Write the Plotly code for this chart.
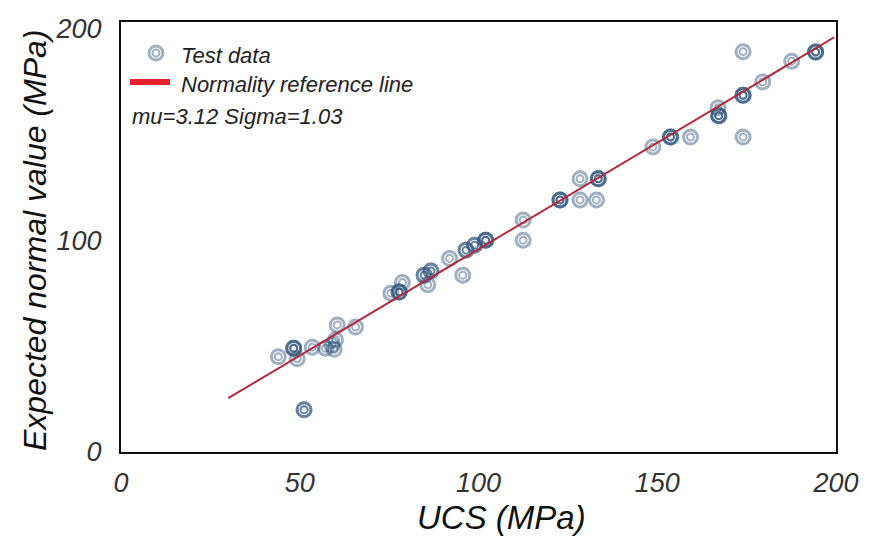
import plotly.graph_objects as go

# UCS (MPa) and expected normal value (MPa); repeated entries are overlapping observations
ucs = [44.0, 49.3, 48.3, 48.3, 48.3, 51.2, 51.2, 53.5, 57.2, 59.6, 59.0, 60.0, 60.5, 65.6,
       75.5, 77.8, 77.8, 77.8, 78.7, 84.8, 84.8, 86.7, 86.7, 85.8, 91.9, 95.6,
       96.5, 96.5, 98.9, 98.9, 102.0, 102.0, 102.0, 112.5, 112.5,
       122.8, 122.8, 122.8, 128.4, 133.0, 128.4, 133.5, 133.5, 133.5,
       148.8, 153.7, 153.7, 153.7, 159.3, 167.2, 167.2, 167.2, 167.0, 174.0,
       174.0, 174.0, 174.0, 179.5, 174.0, 187.6, 194.3, 194.3, 194.3]
expected = [45.0, 44.0, 49.0, 49.0, 49.0, 20.0, 20.0, 49.5, 49.0, 48.5, 50.5, 53.0, 60.0, 59.0,
            75.0, 75.5, 75.5, 75.5, 80.0, 83.5, 83.5, 85.5, 85.5, 79.0, 91.4, 83.5,
            95.3, 95.3, 97.6, 97.6, 100.0, 100.0, 100.0, 109.5, 100.0,
            119.0, 119.0, 119.0, 119.0, 119.0, 129.0, 129.0, 129.0, 129.0,
            144.0, 148.7, 148.7, 148.7, 148.7, 158.8, 158.8, 158.8, 162.5, 148.7,
            168.4, 168.4, 168.4, 174.7, 189.0, 184.5, 188.8, 188.8, 188.8]

ref_x = [30.0, 199.5]
ref_y = [25.4, 195.8]

x_ticks = [0, 50, 100, 150, 200]
y_ticks = [0, 100, 200]

ring_color = "rgba(40,80,120,0.45)"
font_family = "Liberation Sans, Arial, sans-serif"

fig = go.Figure()
fig.add_trace(go.Scatter(x=ucs, y=expected, mode="markers", showlegend=False,
                         marker=dict(symbol="circle-open", size=14,
                                     line=dict(color=ring_color, width=3), color=ring_color)))
fig.add_trace(go.Scatter(x=ucs, y=expected, mode="markers", showlegend=False,
                         marker=dict(symbol="circle-open", size=7,
                                     line=dict(color=ring_color, width=2), color=ring_color)))
fig.add_trace(go.Scatter(x=ref_x, y=ref_y, mode="lines", showlegend=False,
                         line=dict(color="#b3263a", width=2)))

W, H = 878, 541
ml, mr, mt, mb = 121, 42, 22, 89
pw, ph = W - ml - mr, H - mt - mb

def px(xp):
    return (xp - ml) / pw

def py(yp):
    return (H - mb - yp) / ph

shapes = [
    dict(type="circle", xref="paper", yref="paper", xsizemode="pixel", ysizemode="pixel",
         xanchor=px(156), yanchor=py(53), x0=-7, x1=7, y0=-7, y1=7,
         line=dict(color=ring_color, width=3)),
    dict(type="circle", xref="paper", yref="paper", xsizemode="pixel", ysizemode="pixel",
         xanchor=px(156), yanchor=py(53), x0=-3.5, x1=3.5, y0=-3.5, y1=3.5,
         line=dict(color=ring_color, width=2)),
    dict(type="line", xref="paper", yref="paper", x0=px(130), x1=px(170), y0=py(82), y1=py(82),
         line=dict(color="#e8202e", width=6)),
]

leg_font = dict(family=font_family, size=22, color="#222", style="italic")
annotations = [
    dict(text="Test data", xref="paper", yref="paper", x=px(179), y=py(56),
         xanchor="left", yanchor="middle", showarrow=False, font=leg_font),
    dict(text="Normality reference line", xref="paper", yref="paper", x=px(179), y=py(84),
         xanchor="left", yanchor="middle", showarrow=False, font=leg_font),
    dict(text="mu=3.12 Sigma=1.03", xref="paper", yref="paper", x=px(130), y=py(116),
         xanchor="left", yanchor="middle", showarrow=False, font=leg_font),
    dict(text="UCS (MPa)", xref="paper", yref="paper", x=px(501), y=py(517),
         xanchor="center", yanchor="middle", showarrow=False,
         font=dict(family=font_family, size=33, color="#111", style="italic")),
    dict(text="Expected normal value (MPa)", xref="paper", yref="paper", x=px(35), y=py(240),
         xanchor="center", yanchor="middle", showarrow=False, textangle=-90,
         font=dict(family=font_family, size=32, color="#111", style="italic")),
]

tick_font = dict(family=font_family, size=27, color="#333", style="italic")
fig.update_layout(
    width=W, height=H,
    margin=dict(l=ml, r=mr, t=mt, b=mb, autoexpand=False),
    paper_bgcolor="white", plot_bgcolor="white",
    shapes=shapes, annotations=annotations,
    xaxis=dict(range=[0, 200], tickvals=x_ticks, showgrid=False, zeroline=False,
               showline=True, mirror=True, linecolor="#111", linewidth=2,
               ticks="", tickfont=tick_font, ticklabelstandoff=6),
    yaxis=dict(range=[0, 203], tickvals=y_ticks, showgrid=False, zeroline=False,
               showline=True, mirror=True, linecolor="#111", linewidth=2,
               ticks="", tickfont=tick_font, ticklabelstandoff=12),
)

fig.write_html("out.html")
